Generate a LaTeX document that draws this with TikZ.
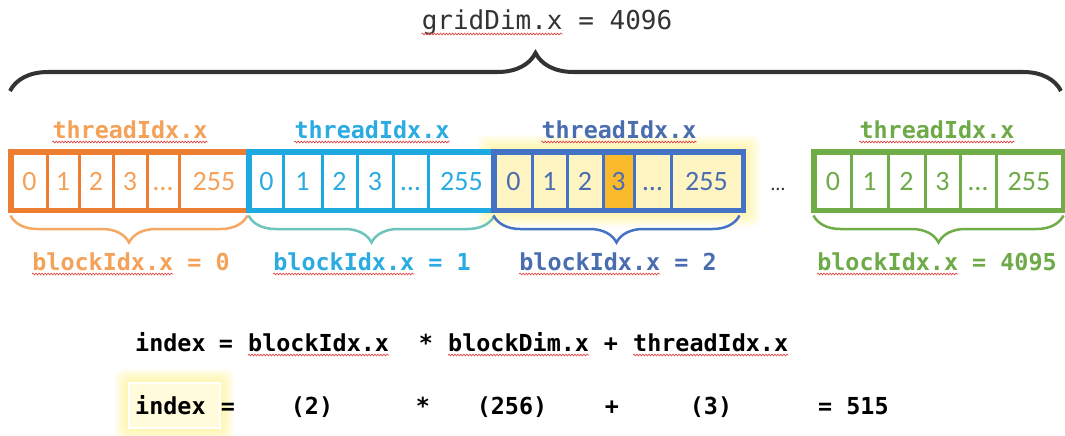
\documentclass[tikz,border=0pt]{standalone}
\usepackage{fontspec}
\setmainfont{Carlito}
\newfontfamily\monofont{DejaVu Sans Mono}
\usetikzlibrary{decorations.pathreplacing,decorations.pathmorphing,calc}
\definecolor{ocol}{HTML}{ED7D31}
\definecolor{otxt}{HTML}{F4A259}
\definecolor{obrace}{HTML}{F5A862}
\definecolor{lcol}{HTML}{1FA9E1}
\definecolor{ltxt}{HTML}{2AABE2}
\definecolor{tealb}{HTML}{6DC4BD}
\definecolor{dcol}{HTML}{4472C4}
\definecolor{dtxt}{HTML}{4A6DB0}
\definecolor{gcol}{HTML}{70AD47}
\definecolor{gtxt}{HTML}{6EAA48}
\definecolor{dyel}{HTML}{FFF5C2}
\definecolor{goldf}{HTML}{FBB92C}
\definecolor{glowc}{HTML}{FFF170}
\definecolor{squigc}{HTML}{E24A4A}
\definecolor{darkc}{HTML}{333333}
\begin{document}
\begin{tikzpicture}[x=1pt,y=-1pt,
  cell/.style={draw, line width=3pt, minimum height=56pt, inner sep=0pt,
    text height=18pt, text depth=0pt, font=\fontsize{28}{30}\selectfont},
  frame/.style={line width=4.5pt},
  lab/.style={font=\monofont\bfseries\fontsize{23.4}{26}\selectfont, inner sep=0pt, anchor=base},
  squig/.style={squigc, line width=0.7pt, decorate, decoration={snake, amplitude=0.9pt, segment length=3pt}},
  bbrace/.style={line width=2.5pt, decorate, decoration={brace, amplitude=27pt}},
  glowlayer/.style={glowc, opacity=0.07, rounded corners=8pt}
]
\useasboundingbox (0,0) rectangle (1065,436);
\fill[white] (0,0) rectangle (1065,436);

% glow around third block
\foreach \k in {1,...,12}
  \fill[glowlayer] ({495-1.5*\k},{153-1.5*\k}) rectangle ({742+1.5*\k},{209+1.5*\k});
% glow around index
\foreach \k in {1,...,10}
  \fill[glowlayer] ({129-1.4*\k},{383-1.4*\k}) rectangle ({220+1.4*\k},{428+1.4*\k});

% top label and brace
\node[font=\monofont\fontsize{26}{28}\selectfont, text=darkc, inner sep=0pt, anchor=base] (grid) at (547,30) {gridDim.x = 4096};
\draw[squig] ($(grid.base west)+(0,4)$) -- ($(grid.base west)+(141,4)$);
\coordinate (bl) at (10,91);
\coordinate (br) at (1061,91);
\draw[darkc, line width=4pt, decorate, decoration={brace, amplitude=38pt}] (bl) -- (br);

% block 0 (orange)
\foreach \l/\r/\t [count=\i] in {12/47/0,47/79/1,79/113/2,113/147/3,147/179/…,179/249/255}
  \node[cell, draw=ocol, text=otxt, fill=white, minimum width={(\r-\l)*1pt}] (o\i) at ({(\l+\r)/2},181) {\t};
\draw[frame, ocol] (o1.north west) rectangle (o6.south east);

% block 1 (light blue)
\foreach \l/\r/\t [count=\i] in {250/283/0,283/322/1,322/357/2,357/393/3,393/428/…,428/495/255}
  \node[cell, draw=lcol, text=ltxt, fill=white, minimum width={(\r-\l)*1pt}] (l\i) at ({(\l+\r)/2},181) {\t};
\draw[frame, lcol] (l1.north west) rectangle (l6.south east);

% block 2 (dark blue, highlighted)
\foreach \l/\r/\t/\f [count=\i] in {495/532/0/dyel,532/567/1/dyel,567/603/2/dyel,603/634/3/goldf,634/671/…/dyel,671/742/255/dyel}
  \node[cell, draw=dcol, text=dtxt, fill=\f, minimum width={(\r-\l)*1pt}] (d\i) at ({(\l+\r)/2},181) {\t};
\draw[frame, dcol] (d1.north west) rectangle (d6.south east);

% dots between
\node[font=\fontsize{20}{22}\selectfont, text=darkc, inner sep=0pt, anchor=base] (gap) at (778,190) {…};

% block 4095 (green)
\foreach \l/\r/\t [count=\i] in {815/851/0,851/888/1,888/925/2,925/960/3,960/996/…,996/1062/255}
  \node[cell, draw=gcol, text=gtxt, fill=white, minimum width={(\r-\l)*1pt}] (g\i) at ({(\l+\r)/2},181) {\t};
\draw[frame, gcol] (g1.north west) rectangle (g6.south east);

% threadIdx labels
\node[lab, text=otxt] (to) at (130,138) {threadIdx.x};
\node[lab, text=ltxt] (tl) at (372,138) {threadIdx.x};
\node[lab, text=dtxt] (td) at (619,138) {threadIdx.x};
\node[lab, text=gtxt] (tg) at (937,138) {threadIdx.x};
\foreach \n in {to,tl,td,tg}
  \draw[squig] ($(\n.base west)+(0,4)$) -- ($(\n.base east)+(0,4)$);

% block braces
\draw[bbrace, obrace] ([shift={(-3,5)}]o6.south east) -- ([shift={(0,5)}]o1.south west);
\draw[bbrace, tealb] ([shift={(-2,5)}]l6.south east) -- ([shift={(0,5)}]l1.south west);
\draw[bbrace, dcol] ([shift={(-4,5)}]d6.south east) -- ([shift={(0,5)}]d1.south west);
\draw[bbrace, gcol] ([shift={(0,5)}]g6.south east) -- ([shift={(0,5)}]g1.south west);

% blockIdx labels
\node[lab, text=otxt] (bo) at (131,270) {blockIdx.x = 0};
\node[lab, text=ltxt] (bl1) at (372,270) {blockIdx.x = 1};
\node[lab, text=dtxt] (bd) at (618,270) {blockIdx.x = 2};
\node[lab, text=gtxt] (bg) at (937,270) {blockIdx.x = 4095};
\foreach \n in {bo,bl1,bd,bg}
  \draw[squig] ($(\n.base west)+(0,4)$) -- ($(\n.base west)+(141,4)$);

% formula line 1
\node[lab, anchor=base west] (f1) at (135,351) {index};
\node[lab] (f2) at (226,351) {=};
\node[lab, anchor=base west] (f3) at (248,351) {blockIdx.x};
\node[lab] (f4) at (426,351) {*};
\node[lab, anchor=base west] (f5) at (448,351) {blockDim.x};
\node[lab] (f6) at (611,351) {+};
\node[lab, anchor=base west] (f7) at (633,351) {threadIdx.x};
\foreach \n in {f3,f5,f7}
  \draw[squig] ($(\n.base west)+(0,4)$) -- ($(\n.base east)+(0,4)$);

% formula line 2
\node[draw=white, line width=1.5pt, fill=glowc!25, minimum width=91pt, minimum height=45pt, inner sep=0pt] (ibox) at (174.5,405.5) {};
\node[lab, anchor=base west] (e1) at (135,414) {index};
\node[lab] (e2) at (228,414) {=};
\node[lab] (e3) at (312,414) {(2)};
\node[lab] (e4) at (423,414) {*};
\node[lab] (e5) at (512,414) {(256)};
\node[lab] (e6) at (612,414) {+};
\node[lab] (e7) at (711,414) {(3)};
\node[lab, anchor=base west] (e8) at (818,414) {= 515};
\end{tikzpicture}
\end{document}
